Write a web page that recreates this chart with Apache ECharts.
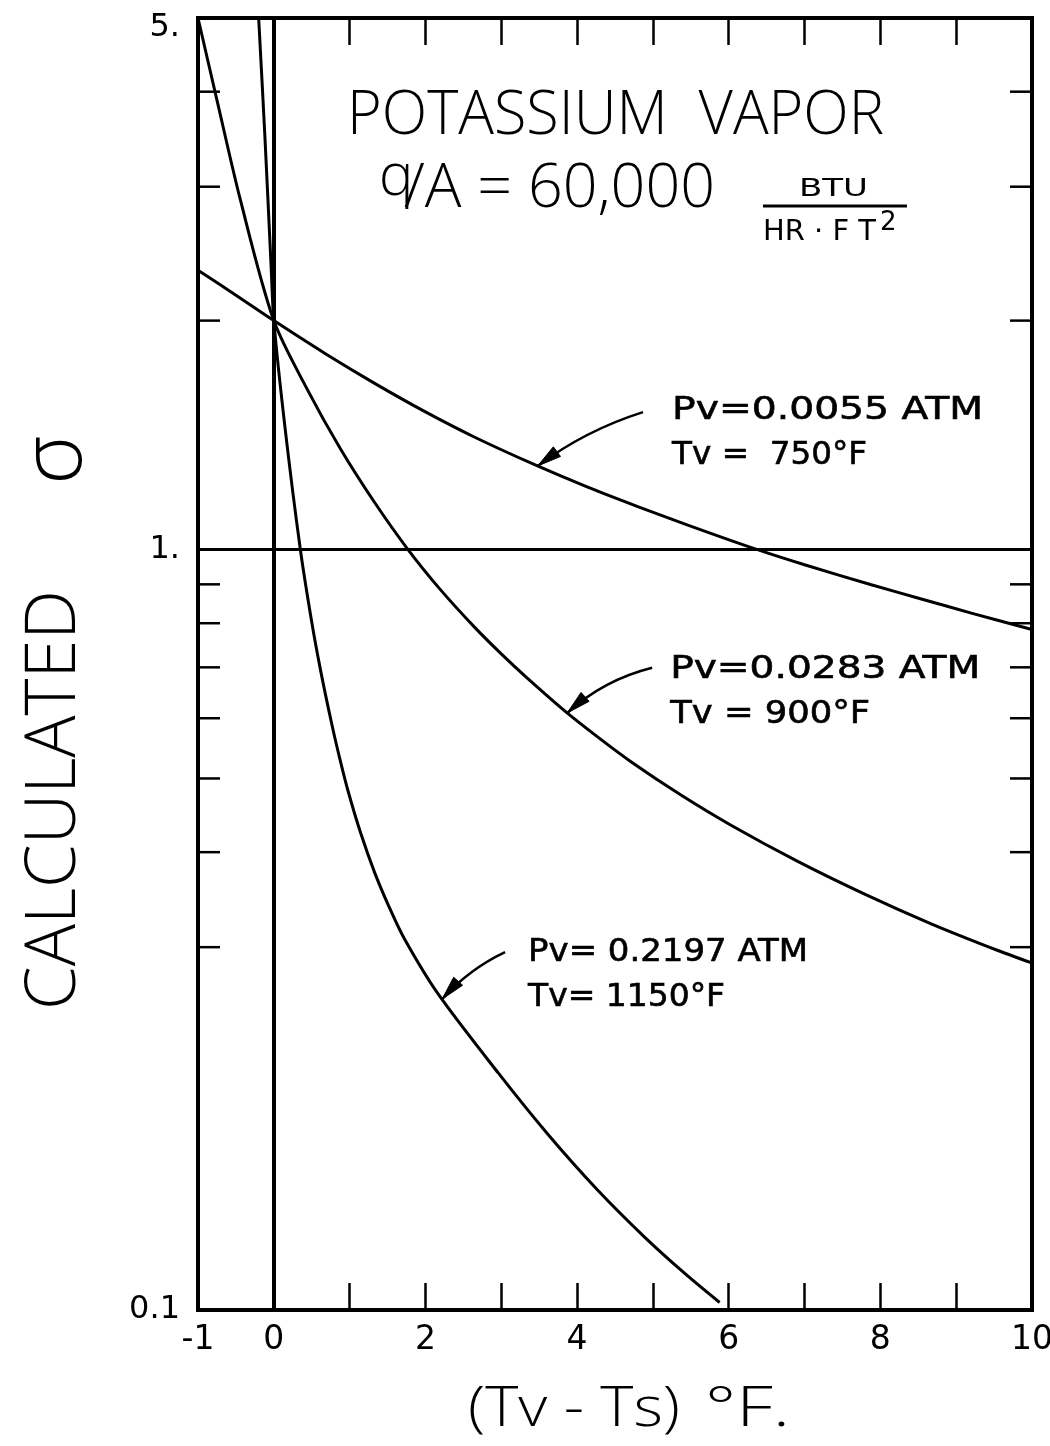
<!DOCTYPE html>
<html>
<head>
<meta charset="utf-8">
<title>Potassium vapor – calculated sigma</title>
<script src="https://cdn.jsdelivr.net/npm/echarts@6.0.0/dist/echarts.min.js"></script>
<style>
  html, body { margin: 0; padding: 0; background: #fff; }
  #chart { width: 1050px; height: 1446px; }
</style>
</head>
<body>
<div id="chart"></div>
<script>
// ---- data ---------------------------------------------------------------
// Superheat (Tv - Ts, °F) and calculated sigma for each vapor state.
const dt750 = [-1, -0.5, 0, 0.67, 1.33, 2.0, 2.65, 3.44, 4.14, 4.8, 5.46, 6.35, 7.0, 7.88, 8.54, 9.2, 10];
const sigma750 = [2.33, 2.16, 2.0, 1.812, 1.654, 1.517, 1.405, 1.293, 1.208, 1.139, 1.077, 1.002, 0.955, 0.899, 0.861, 0.825, 0.785];

const dt900 = [-1, -0.75, -0.44, 0, 0.45, 0.88, 1.33, 1.77, 2.2, 2.65, 3.0, 3.31, 3.84, 4.27, 4.71, 5.37, 6.03, 6.91, 7.8, 8.67, 9.55, 10];
const sigma900 = [5.0, 3.9, 2.88, 2.0, 1.618, 1.356, 1.153, 1.0, 0.885, 0.79, 0.729, 0.682, 0.613, 0.567, 0.526, 0.4755, 0.434, 0.389, 0.352, 0.322, 0.297, 0.286];

const dt1150 = [-0.2, -0.12, -0.035, 0, 0.15, 0.35, 0.5, 0.62, 0.77, 0.87, 0.98, 1.15, 1.33, 1.52, 1.72, 2.16, 2.96, 3.62, 4.27, 4.89, 5.42, 5.88];
const sigma1150 = [5.0, 3.53, 2.35, 2.0, 1.44, 1.0, 0.803, 0.691, 0.586, 0.531, 0.481, 0.4225, 0.376, 0.339, 0.308, 0.261, 0.205, 0.170, 0.1438, 0.1247, 0.1117, 0.1023];

// ---- axes ---------------------------------------------------------------
const xMin = -1;
const xMax = 10;
const xLabelValues = [-1, 0, 2, 4, 6, 8, 10];
const yMin = 0.1;
const yMax = 5;
const yLabelValues = [0.1, 1, 5];
const yLabelTexts = ['0.1', '1.', '5.'];
const yMinorTicks = [0.3, 0.4, 0.5, 0.6, 0.7, 0.8, 0.9, 2, 3, 4];

// ---- curve notes ----------------------------------------------------------
const noteLines = [
  ['Pv=0.0055 ATM', 'Tv =  750°F'],
  ['Pv=0.0283 ATM', 'Tv = 900°F'],
  ['Pv= 0.2197 ATM', 'Tv= 1150°F']
];
const noteCurve = ['750', '900', '1150'];
const noteTipDt = [3.48, 3.87, 2.22];

// ---- styling / layout ---------------------------------------------------
const INK = '#000';
const LIGHT_FONT = '"Open Sans", "Noto Sans", sans-serif';
const LABEL_FONT = '"DejaVu Sans", sans-serif';
const TICK_LEN = 22;

// where each note's arrow starts (data space) and how its text sits (pixels)
const noteLayout = [
  { tail: [4.87, 1.516], dx: 29, dy: -1, widths: [311, 195], bow: 5 },
  { tail: [4.99, 0.699], dx: 18, dy: 2, widths: [310, 200], bow: 6 },
  { tail: [3.05, 0.2956], dx: 23, dy: 1, widths: [280, 197], bow: 4 }
];
const NOTE_FONT_SIZE = 32;
const NOTE_ROW_GAP = 45;

const curves = {
  '750': [dt750, sigma750],
  '900': [dt900, sigma900],
  '1150': [dt1150, sigma1150]
};

// sigma on a curve at a given superheat, interpolated in log space
function sigmaAt(xs, ys, x) {
  for (let i = 0; i < xs.length - 1; i++) {
    if (x >= xs[i] && x <= xs[i + 1]) {
      const t = (x - xs[i]) / (xs[i + 1] - xs[i]);
      return Math.pow(10, Math.log10(ys[i]) + t * (Math.log10(ys[i + 1]) - Math.log10(ys[i])));
    }
  }
  return ys[ys.length - 1];
}

const measureCtx = document.createElement('canvas').getContext('2d');
function textWidth(text, size, weight, family) {
  measureCtx.font = weight + ' ' + size + 'px ' + family;
  return measureCtx.measureText(text).width;
}
// horizontal stretch so a string spans the requested width
function stretchFor(text, size, weight, family, width) {
  return width ? width / textWidth(text, size, weight, family) : 1;
}

function textEl(text, o) {
  const weight = o.weight || 'normal';
  const family = o.family || LIGHT_FONT;
  return {
    type: 'text',
    x: o.x,
    y: o.y,
    rotation: o.rotation || 0,
    scaleX: stretchFor(text, o.size, weight, family, o.width),
    silent: true,
    style: {
      text: text,
      fontSize: o.size,
      fontWeight: weight,
      fontFamily: family,
      fill: INK,
      align: o.align || 'left',
      verticalAlign: 'middle'
    }
  };
}

function curveSeries(name, xs, ys, extra) {
  return Object.assign({
    type: 'line',
    name: name,
    data: xs.map((x, i) => [x, ys[i]]),
    showSymbol: false,
    symbol: 'none',
    smooth: 0.3,
    clip: true,
    silent: true,
    z: 3,
    lineStyle: { color: INK, width: 3 }
  }, extra || {});
}

const xAxisBase = {
  type: 'value',
  min: xMin,
  max: xMax,
  interval: 1,
  axisLine: { show: false },
  splitLine: { show: false },
  axisTick: { show: true, inside: true, length: 27, lineStyle: { color: INK, width: 2.5 } }
};

const option = {
  animation: false,
  backgroundColor: '#fff',
  grid: {
    left: 198, right: 18, top: 18, bottom: 136,
    show: true,
    borderColor: INK,
    borderWidth: 4,
    backgroundColor: 'transparent',
    containLabel: false,
    outerBoundsMode: 'none'
  },
  xAxis: [
    Object.assign({}, xAxisBase, {
      position: 'bottom',
      axisLabel: {
        show: true,
        margin: 14,
        fontSize: 33,
        fontFamily: LABEL_FONT,
        color: INK,
        showMinLabel: true,
        showMaxLabel: true,
        formatter: v => (xLabelValues.indexOf(Math.round(v)) >= 0 ? String(Math.round(v)) : '')
      }
    }),
    Object.assign({}, xAxisBase, {
      position: 'top',
      axisLabel: { show: false }
    })
  ],
  yAxis: {
    type: 'log',
    logBase: 10,
    min: yMin,
    max: yMax,
    axisLine: { show: false },
    axisTick: { show: false },
    minorTick: { show: false },
    splitLine: { show: false },
    axisLabel: {
      margin: 18,
      fontSize: 32,
      fontFamily: LABEL_FONT,
      color: INK,
      showMinLabel: true,
      showMaxLabel: true,
      rich: {
        top: { fontSize: 32, fontFamily: LABEL_FONT, color: INK, padding: [20, 0, 0, 0] }
      },
      formatter: v => {
        const i = yLabelValues.findIndex(t => Math.abs(t - v) < 1e-6 * Math.max(1, t));
        if (i < 0) return '';
        // the top label sits a little below the frame corner
        return yLabelValues[i] === yMax ? '{top|' + yLabelTexts[i] + '}' : yLabelTexts[i];
      }
    }
  },
  series: [
    curveSeries('Tv = 750°F', dt750, sigma750, {
      markLine: {
        silent: true,
        symbol: 'none',
        label: { show: false },
        lineStyle: { color: INK, type: 'solid' },
        data: [
          { xAxis: 0, lineStyle: { width: 4, color: INK, type: 'solid' } },
          { yAxis: 1, lineStyle: { width: 3, color: INK, type: 'solid' } }
        ]
      }
    }),
    curveSeries('Tv = 900°F', dt900, sigma900),
    curveSeries('Tv = 1150°F', dt1150, sigma1150),
    {
      // log-decade ticks on the left and right frame
      type: 'custom',
      silent: true,
      z: 4,
      data: yMinorTicks.map(v => [xMin, v]),
      renderItem: function (params, api) {
        const v = api.value(1);
        const l = api.coord([xMin, v]);
        const r = api.coord([xMax, v]);
        const st = { stroke: INK, lineWidth: 2.5 };
        return {
          type: 'group',
          children: [
            { type: 'line', shape: { x1: l[0], y1: l[1], x2: l[0] + TICK_LEN, y2: l[1] }, style: st },
            { type: 'line', shape: { x1: r[0] - TICK_LEN, y1: r[1], x2: r[0], y2: r[1] }, style: st }
          ]
        };
      }
    },
    {
      // labelled arrows pointing at each curve
      type: 'custom',
      silent: true,
      z: 5,
      data: noteCurve.map((k, i) => [noteTipDt[i], sigmaAt(curves[k][0], curves[k][1], noteTipDt[i])]),
      renderItem: function (params, api) {
        const i = params.dataIndex;
        const lay = noteLayout[i];
        const tip = api.coord([api.value(0), api.value(1)]);
        const tail = api.coord(lay.tail);
        const dx = tip[0] - tail[0];
        const dy = tip[1] - tail[1];
        const len = Math.hypot(dx, dy);
        let nx = dy / len, ny = -dx / len;
        if (ny > 0) { nx = -nx; ny = -ny; }
        const cp = [(tail[0] + tip[0]) / 2 + nx * lay.bow * 2, (tail[1] + tip[1]) / 2 + ny * lay.bow * 2];
        let ax = tip[0] - cp[0], ay = tip[1] - cp[1];
        const al = Math.hypot(ax, ay);
        ax /= al; ay /= al;
        const headLen = 24, headHalf = 6;
        const base = [tip[0] - ax * headLen, tip[1] - ay * headLen];
        const children = [
          {
            type: 'bezierCurve',
            shape: { x1: tail[0], y1: tail[1], x2: tip[0], y2: tip[1], cpx1: cp[0], cpy1: cp[1] },
            style: { stroke: INK, lineWidth: 2.5, fill: null }
          },
          {
            type: 'polygon',
            shape: { points: [[tip[0], tip[1]], [base[0] - ay * headHalf, base[1] + ax * headHalf], [base[0] + ay * headHalf, base[1] - ax * headHalf]] },
            style: { fill: INK, stroke: INK, lineWidth: 1 }
          }
        ];
        noteLines[i].forEach((line, j) => {
          children.push({
            type: 'text',
            x: tail[0] + lay.dx,
            y: tail[1] + lay.dy + j * NOTE_ROW_GAP,
            scaleX: stretchFor(line, NOTE_FONT_SIZE, 'normal', LABEL_FONT, lay.widths[j]),
            style: {
              text: line,
              fontSize: NOTE_FONT_SIZE,
              fontFamily: LABEL_FONT,
              fill: INK,
              stroke: INK,
              lineWidth: 0.6,
              align: 'left',
              verticalAlign: 'middle'
            }
          });
        });
        return { type: 'group', children: children };
      }
    }
  ],
  graphic: [
    textEl('POTASSIUM  VAPOR', { x: 347, y: 117, size: 60, weight: 300, width: 537 }),
    textEl('q', { x: 379, y: 178, size: 58, weight: 300 }),
    textEl('/A = 60,000', { x: 404, y: 190, size: 60, weight: 300, width: 311 }),
    textEl('BTU', { x: 799, y: 190, size: 24, family: LABEL_FONT, width: 69 }),
    {
      type: 'line', silent: true,
      shape: { x1: 763, y1: 206, x2: 907, y2: 206 },
      style: { stroke: INK, lineWidth: 3 }
    },
    textEl('HR · F T', { x: 763, y: 232, size: 29, family: LABEL_FONT, width: 113 }),
    textEl('2', { x: 880, y: 223, size: 26, family: LABEL_FONT }),
    textEl('CALCULATED', { x: 55, y: 800, size: 70, weight: 300, width: 420, align: 'center', rotation: Math.PI / 2 }),
    textEl('σ', { x: 57, y: 460, size: 84, weight: 300, align: 'center', rotation: Math.PI / 2 }),
    textEl('(Tv - Ts)', { x: 468, y: 1410, size: 56, weight: 300, width: 212 }),
    textEl('°F.', { x: 705, y: 1410, size: 56, weight: 300, width: 85 })
  ]
};

const chart = echarts.init(document.getElementById('chart'), null, { renderer: 'canvas' });
chart.setOption(option);
</script>
</body>
</html>
